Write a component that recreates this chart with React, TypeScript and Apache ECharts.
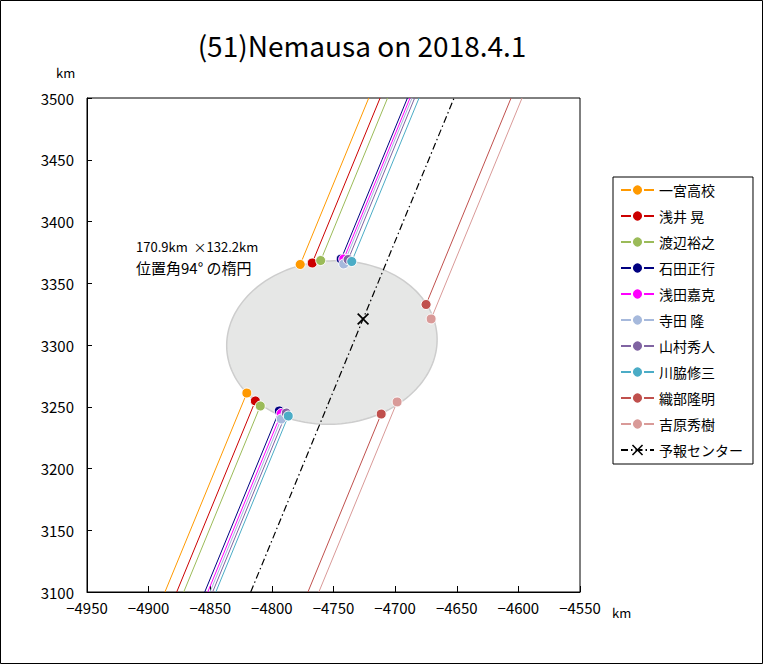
import React, { useEffect, useRef } from "react";
import * as echarts from "echarts";

// ---- data ----
const observers = ["一宮高校", "浅井 晃", "渡辺裕之", "石田正行", "浅田嘉克", "寺田 隆", "山村秀人", "川脇修三", "織部隆明", "吉原秀樹"];
const observerColors = ["#FF9900", "#CC0000", "#9BBB59", "#000080", "#FF00FF", "#A6B9DC", "#8064A2", "#4BACC6", "#C0504D", "#D99A98"];
// lower event points (km)
const lowerX = [-4820.3, -4813.4, -4809.4, -4794.0, -4792.4, -4792.4, -4788.3, -4786.7, -4711.3, -4698.4];
const lowerY = [3261.1, 3254.7, 3250.6, 3246.6, 3244.5, 3240.1, 3244.9, 3242.5, 3244.1, 3253.9];
// upper event points (km)
const upperX = [-4777.0, -4767.3, -4760.4, -4743.8, -4741.7, -4741.7, -4738.1, -4735.2, -4674.9, -4670.8];
const upperY = [3365.2, 3366.4, 3368.4, 3369.6, 3369.6, 3365.6, 3369.2, 3367.6, 3332.8, 3321.1];
// shadow motion direction (dx per dy)
const shadowSlope = 0.4125;
// predicted center
const predictedName = "予報センター";
const predictedCenter = [-4726, 3321];
// fitted ellipse
const ellipseCenter = [-4751.3, 3302];
const ellipseMajor = 170.9;
const ellipseMinor = 132.2;
const ellipsePA = 94;
// axes
const xMin = -4950, xMax = -4550, yMin = 3100, yMax = 3500, tickStep = 50;
const titleText = "(51)Nemausa on 2018.4.1";

const FONT = "'Noto Sans CJK JP', 'Noto Sans', sans-serif";
const xPath = "path://M0,1L1,0L5,4L9,0L10,1L6,5L10,9L9,10L5,6L1,10L0,9L4,5Z";

function xAtY(px: number, py: number, y: number) {
  return px + (y - py) * shadowSlope;
}

export default function App() {
  const ref = useRef<HTMLDivElement>(null);
  useEffect(() => {
    if (!ref.current) return;
    const chart = echarts.init(ref.current, undefined, { renderer: "svg" });

    const series: any[] = [];
    series.push({
      type: "custom",
      name: "ellipse",
      coordinateSystem: "cartesian2d",
      silent: true,
      z: 1,
      data: [ellipseCenter],
      renderItem: (params: any, api: any) => {
        const th = ((ellipsePA - 90) * Math.PI) / 180;
        const a = ellipseMajor / 2, b = ellipseMinor / 2;
        const pts: number[][] = [];
        for (let i = 0; i < 180; i++) {
          const t = (i / 180) * Math.PI * 2;
          const ux = a * Math.cos(t), uy = b * Math.sin(t);
          const x = ellipseCenter[0] + ux * Math.cos(th) - uy * Math.sin(th);
          const y = ellipseCenter[1] + ux * Math.sin(th) + uy * Math.cos(th);
          pts.push(api.coord([x, y]));
        }
        return {
          type: "polygon",
          shape: { points: pts },
          style: { fill: "#E6E7E6", stroke: "#CDCDCD", lineWidth: 1.5 },
        };
      },
    });

    observers.forEach((name, i) => {
      const common = {
        type: "line",
        name,
        color: observerColors[i],
        symbol: "circle",
        symbolSize: 10,
        lineStyle: { width: 1, color: observerColors[i] },
        itemStyle: { color: observerColors[i], borderColor: "#fff", borderWidth: 1 },
        z: 3,
        emphasis: { disabled: true },
      };
      series.push({
        ...common,
        data: [
          { value: [xAtY(lowerX[i], lowerY[i], yMin), yMin], symbol: "none" },
          [lowerX[i], lowerY[i]],
        ],
      });
      series.push({
        ...common,
        data: [
          [upperX[i], upperY[i]],
          { value: [xAtY(upperX[i], upperY[i], yMax), yMax], symbol: "none" },
        ],
      });
    });

    series.push({
      type: "line",
      name: predictedName,
      color: "#000",
      symbol: xPath,
      symbolSize: 12,
      lineStyle: { width: 1.2, color: "#000", type: [7, 3, 1.5, 3] },
      itemStyle: { color: "#000" },
      z: 4,
      data: [
        { value: [xAtY(predictedCenter[0], predictedCenter[1], yMin), yMin], symbol: "none" },
        predictedCenter,
        { value: [xAtY(predictedCenter[0], predictedCenter[1], yMax), yMax], symbol: "none" },
      ],
    });

    chart.setOption({
      animation: false,
      backgroundColor: "#fff",
      grid: {
        left: 87,
        top: 98,
        width: 493,
        height: 494,
        show: true,
        borderColor: "#000",
        borderWidth: 1,
        containLabel: false,
      },
      xAxis: {
        type: "value",
        min: xMin,
        max: xMax,
        interval: tickStep,
        axisLine: { onZero: false, lineStyle: { color: "#000", width: 1 } },
        axisTick: { inside: true, length: 6, lineStyle: { color: "#000" } },
        splitLine: { show: false },
        axisLabel: {
          color: "#000",
          fontSize: 15,
          fontFamily: FONT,
          margin: 8,
          formatter: (v: number) => String(v).replace("-", "−"),
        },
      },
      yAxis: {
        type: "value",
        min: yMin,
        max: yMax,
        interval: tickStep,
        axisLine: { onZero: false, lineStyle: { color: "#000", width: 1 } },
        axisTick: { inside: true, length: 5, lineStyle: { color: "#000" } },
        splitLine: { show: false },
        axisLabel: {
          color: "#000",
          fontSize: 15,
          fontFamily: FONT,
          margin: 13,
          formatter: (v: number) => String(v),
        },
      },
      legend: {
        orient: "vertical",
        left: 613,
        top: 177,
        data: [...observers, predictedName],
        itemWidth: 33,
        itemHeight: 14,
        itemGap: 12,
        padding: [6, 10, 7, 7],
        borderColor: "#000",
        borderWidth: 1,
        backgroundColor: "#fff",
        selectedMode: false,
        textStyle: { color: "#000", fontSize: 14, fontFamily: FONT, lineHeight: 14 },
      },
      graphic: [
        {
          type: "rect",
          shape: { x: 0.5, y: 0.5, width: 762, height: 663 },
          style: { fill: "none", stroke: "#000", lineWidth: 1 },
          silent: true,
        },
        {
          type: "text",
          x: 362,
          y: 45,
          style: {
            text: titleText,
            fill: "#000",
            font: `28px ${FONT}`,
            textAlign: "center",
            textVerticalAlign: "middle",
          },
        },
        {
          type: "text",
          x: 56,
          y: 72,
          style: { text: "km", fill: "#000", font: `13px ${FONT}`, textVerticalAlign: "middle" },
        },
        {
          type: "text",
          x: 612,
          y: 612,
          style: { text: "km", fill: "#000", font: `13px ${FONT}`, textVerticalAlign: "middle" },
        },
        {
          type: "text",
          x: 136,
          y: 246,
          style: {
            text: `${ellipseMajor}km  ×${ellipseMinor}km`,
            fill: "#000",
            font: `13px ${FONT}`,
            textVerticalAlign: "middle",
          },
        },
        {
          type: "text",
          x: 136,
          y: 267,
          style: {
            text: `位置角${ellipsePA}° の楕円`,
            fill: "#000",
            font: `15px ${FONT}`,
            textVerticalAlign: "middle",
          },
        },
      ],
      series,
    });
    return () => chart.dispose();
  }, []);
  return (
    <div
      ref={ref}
      style={{ position: "fixed", left: 0, top: 0, width: 763, height: 664 }}
    />
  );
}
